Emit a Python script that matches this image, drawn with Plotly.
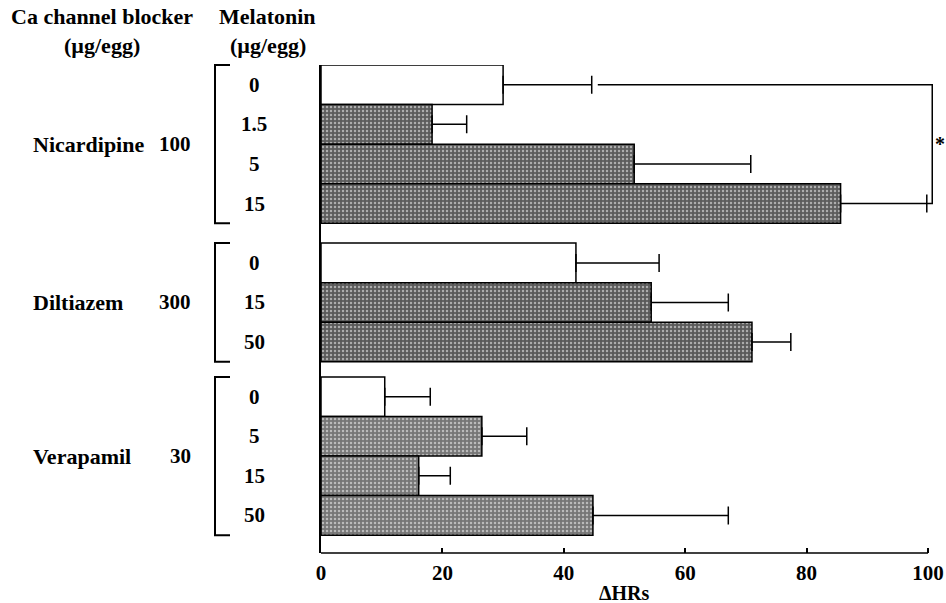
import plotly.graph_objects as go

# ---- data ----
blockers = ["Nicardipine", "Diltiazem", "Verapamil"]
blocker_doses = ["100", "300", "30"]
melatonin_doses = [["0", "1.5", "5", "15"], ["0", "15", "50"], ["0", "5", "15", "50"]]
means = [[30.0, 18.3, 51.6, 85.6], [42.0, 54.4, 71.0], [10.5, 26.5, 16.1, 44.8]]
upper = [[44.6, 24.0, 70.8, 99.8], [55.7, 67.1, 77.4], [18.0, 33.9, 21.3, 67.1]]
x_ticks = [0, 20, 40, 60, 80, 100]

# ---- layout geometry (bar units) ----
group_starts = [0.0, 4.5, 7.88]
y_max = 12.33
group_fill = ["#5c5c5c", "#5a5a5a", "#767676"]

FONT = "Liberation Serif"
W, H = 946, 603
ML, MR, MT, MB = 321, 0, 65, 50
px_per_unit = 6.07
x_range = [0, (W - ML - MR) / px_per_unit]


def ypaper(y):
    return 1 - y / y_max


def xpaper_px(px):
    return (px - ML) / (W - ML - MR)


fig = go.Figure()
annotations = []
shapes = []

for g, name in enumerate(blockers):
    ys = [group_starts[g] + i + 0.5 for i in range(len(means[g]))]
    colors = ["white"] + [group_fill[g]] * (len(means[g]) - 1)
    fg = ["white"] + ["#cfcfcf"] * (len(means[g]) - 1)
    shapes_ = [""] + ["."] * (len(means[g]) - 1)
    err = [u - m for u, m in zip(upper[g], means[g])]
    fig.add_trace(go.Bar(
        x=means[g], y=ys, orientation="h", width=1.0,
        marker=dict(color=colors, line=dict(color="black", width=1.5),
                    pattern=dict(shape=shapes_, fgcolor=fg, size=4, solidity=0.3)),
        error_x=dict(type="data", symmetric=False, array=err,
                     arrayminus=[0] * len(err), color="black", thickness=1.5, width=9),
        showlegend=False, hoverinfo="skip",
    ))
    # melatonin dose labels
    for y, lab in zip(ys, melatonin_doses[g]):
        annotations.append(dict(x=xpaper_px(254), xref="paper", y=y, yref="y",
                                text=lab, showarrow=False, xanchor="center", yanchor="middle",
                                font=dict(family=FONT, size=21, color="black", weight="bold")))
    # blocker name + dose
    yc = group_starts[g] + len(means[g]) / 2
    annotations.append(dict(x=xpaper_px(31), xref="paper", y=yc, yref="y", text=name,
                            showarrow=False, xanchor="left", yanchor="middle",
                            font=dict(family=FONT, size=22, color="black", weight="bold")))
    annotations.append(dict(x=xpaper_px(193), xref="paper", y=yc, yref="y", text=blocker_doses[g],
                            showarrow=False, xanchor="right", yanchor="middle",
                            font=dict(family=FONT, size=21, color="black", weight="bold")))
    # bracket
    top = ypaper(group_starts[g])
    bot = ypaper(group_starts[g] + len(means[g]))
    xb, xs = xpaper_px(215), xpaper_px(230)
    shapes.append(dict(type="path", xref="paper", yref="paper",
                       path=f"M {xs} {top} L {xb} {top} L {xb} {bot} L {xs} {bot}",
                       line=dict(color="black", width=2)))

# significance bracket (Nicardipine 0 vs 15)
y0 = group_starts[0] + 0.5
y3 = group_starts[0] + 3.5
xr = 100.7
shapes.append(dict(type="path", xref="x", yref="y",
                   path=f"M {upper[0][0] + 1.0} {y0} L {xr} {y0} L {xr} {y3} L {upper[0][3]} {y3}",
                   line=dict(color="black", width=1.5)))
annotations.append(dict(x=xr + 1.3, xref="x", y=(y0 + y3) / 2, yref="y", text="*",
                        showarrow=False, xanchor="center", yanchor="middle",
                        font=dict(family=FONT, size=20, color="black", weight="bold")))

# x axis line (0 to 100)
shapes.append(dict(type="line", xref="x", yref="paper", x0=0, x1=100, y0=0, y1=0,
                   line=dict(color="black", width=1.5)))

# headers
hdr = dict(family=FONT, size=22, color="black", weight="bold")
ph = H - MT - MB
annotations += [
    dict(x=xpaper_px(102), xref="paper", y=1 + 48 / ph, yref="paper",
         text="Ca channel blocker", showarrow=False, xanchor="center", yanchor="middle", font=hdr),
    dict(x=xpaper_px(102), xref="paper", y=1 + 20 / ph, yref="paper",
         text="(µg/egg)", showarrow=False, xanchor="center", yanchor="middle", font=hdr),
    dict(x=xpaper_px(267), xref="paper", y=1 + 48 / ph, yref="paper",
         text="Melatonin", showarrow=False, xanchor="center", yanchor="middle", font=hdr),
    dict(x=xpaper_px(268), xref="paper", y=1 + 20 / ph, yref="paper",
         text="(µg/egg)", showarrow=False, xanchor="center", yanchor="middle", font=hdr),
    dict(x=50, xref="x", y=-40 / ph, yref="paper",
         text="ΔHRs", showarrow=False, xanchor="center", yanchor="middle",
         font=dict(family=FONT, size=20, color="black", weight="bold")),
]

fig.update_layout(
    width=W, height=H, margin=dict(l=ML, r=MR, t=MT, b=MB),
    paper_bgcolor="white", plot_bgcolor="white",
    barmode="overlay", showlegend=False,
    shapes=shapes, annotations=annotations,
    xaxis=dict(range=x_range, tickvals=x_ticks, ticktext=[str(v) for v in x_ticks],
               ticks="inside", ticklen=5, tickwidth=1.5, tickcolor="black",
               showline=False, showgrid=False, zeroline=False,
               tickfont=dict(family=FONT, size=21, color="black", weight="bold"),
               ticklabelstandoff=5),
    yaxis=dict(range=[y_max, 0], showticklabels=False, ticks="", showgrid=False,
               zeroline=False, showline=True, linecolor="black", linewidth=1.5),
)

fig.write_html("out.html")
